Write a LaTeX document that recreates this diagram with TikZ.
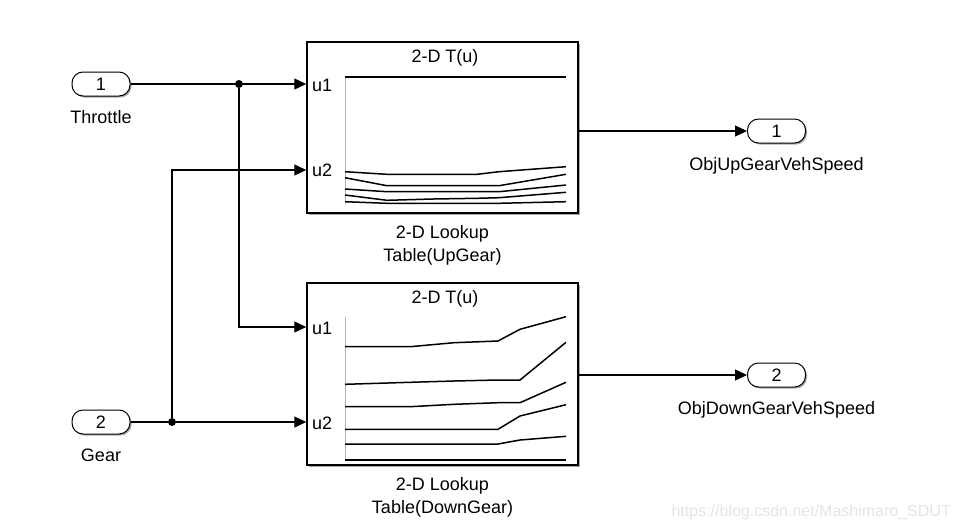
\documentclass[tikz,border=0pt]{standalone}
\usepackage{fontspec}
\setmainfont{Liberation Sans}
\usetikzlibrary{arrows.meta,positioning,calc,shadows}
\definecolor{SLInk}{HTML}{000000}
\definecolor{SLAxis}{HTML}{B4B4B4}
\definecolor{SLShade}{HTML}{A8A8A8}
\definecolor{SLMark}{HTML}{E4E4E4}
\tikzset{
 txt/.style={font=\fontsize{18}{23}\selectfont,inner sep=0pt,align=center},
 port/.style={txt,draw=SLInk,fill=white,rounded corners=11pt,minimum width=58pt,minimum height=24pt,line width=1pt,
  drop shadow={shadow xshift=1.5pt,shadow yshift=-1.5pt,fill=SLShade,opacity=1}},
 lut/.style={draw=SLInk,fill=white,line width=1.4pt,minimum width=271pt,inner sep=0pt,
  drop shadow={shadow xshift=2pt,shadow yshift=-2pt,fill=SLShade,opacity=1}},
 sig/.style={draw=SLInk,line width=1.1pt},
 dot/.style={circle,fill=SLInk,inner sep=0pt,minimum size=8pt},
 curve/.style={draw=SLInk,line width=1.5pt},
 axis/.style={draw=SLAxis,line width=1pt}
}

\begin{document}
\begin{tikzpicture}[x=1pt,y=-1pt,>={Triangle[length=12pt,width=11pt]},node distance=14pt]
\useasboundingbox (0,0) rectangle (961,531);

% inports and outports
\node[port] (in1) at (101,84) {1};
\node[txt,below=of in1] (in1l) {Throttle};
\node[port] (in2) at (101,422) {2};
\node[txt,below=of in2] (in2l) {Gear};
\node[port] (out1) at (776.5,131) {1};
\node[txt,below=of out1] (out1l) {ObjUpGearVehSpeed};
\node[port] (out2) at (776.5,375) {2};
\node[txt,below=of out2] (out2l) {ObjDownGearVehSpeed};

% lookup tables
\node[lut,minimum height=171pt] (lut1) at (442.5,127.5) {};
\node[txt,below=12pt of lut1] (lut1l) {2-D Lookup\\Table(UpGear)};
\node[lut,minimum height=182pt] (lut2) at (442.5,374) {};
\node[txt,below=12pt of lut2] (lut2l) {2-D Lookup\\Table(DownGear)};

\node[txt] (lut1t) at (445,58) {2-D T(u)};
\node[txt,anchor=west] (lut1a) at (312,85) {u1};
\node[txt,anchor=west] (lut1b) at (312,170) {u2};
\node[txt] (lut2t) at (445,299) {2-D T(u)};
\node[txt,anchor=west] (lut2a) at (312,328) {u1};
\node[txt,anchor=west] (lut2b) at (312,423) {u2};

% table curves (UpGear)
\draw[axis] (345,77) -- (345,204);
\draw[curve] (345,77) -- (566,77);
\draw[curve] plot coordinates {(345,171.7) (387,174.3) (433,174.3) (477,174.3) (499,171.7) (566,166.7)};
\draw[curve] plot coordinates {(345,177.7) (387,185.7) (433,185.7) (477,185.7) (499,185.7) (566,174.3)};
\draw[curve] plot coordinates {(345,189) (387,191.7) (433,191.7) (477,191.7) (499,191.7) (566,185)};
\draw[curve] plot coordinates {(345,195) (387,200.3) (433,199) (477,198.3) (499,197.7) (566,192.3)};
\draw[curve] plot coordinates {(345,201.7) (387,203.3) (433,203.3) (477,203.3) (499,203.3) (566,201.7)};

% table curves (DownGear)
\draw[axis] (345,317) -- (345,460);
\draw[curve] plot coordinates {(345,346.7) (410,346.7) (454,342.7) (498,341) (520,329.3) (566,316.7)};
\draw[curve] plot coordinates {(345,384.3) (410,382.3) (454,381) (498,380) (520,380) (566,342.3)};
\draw[curve] plot coordinates {(345,406.7) (410,406.7) (454,404.3) (498,402.7) (520,402.7) (566,382.3)};
\draw[curve] plot coordinates {(345,429.3) (410,429.3) (454,429.3) (498,429.3) (520,416) (566,404.7)};
\draw[curve] plot coordinates {(345,444) (410,444) (454,444) (498,444) (520,440) (566,436.3)};
\draw[curve] (345,460) -- (566,460);

% signals
\node[dot] (j1) at (239,84) {};
\node[dot] (j2) at (172,422) {};
\draw[sig] (in1) -- (j1);
\draw[sig,->] (j1) -- (lut1.west |- j1);
\draw[sig,->] (j1) |- (lut2.west |- 0,327);
\draw[sig] (in2) -- (j2);
\draw[sig,->] (j2) -- (lut2.west |- j2);
\draw[sig,->] (j2) |- (lut1.west |- 0,170);
\draw[sig,->] (lut1.east |- out1) -- (out1);
\draw[sig,->] (lut2.east |- out2) -- (out2);

\node[txt,text=SLMark,font=\fontsize{16}{20}\selectfont,anchor=east] (mark) at (951,512) {https://blog.csdn.net/Mashimaro\_SDUT};
\end{tikzpicture}
\end{document}
